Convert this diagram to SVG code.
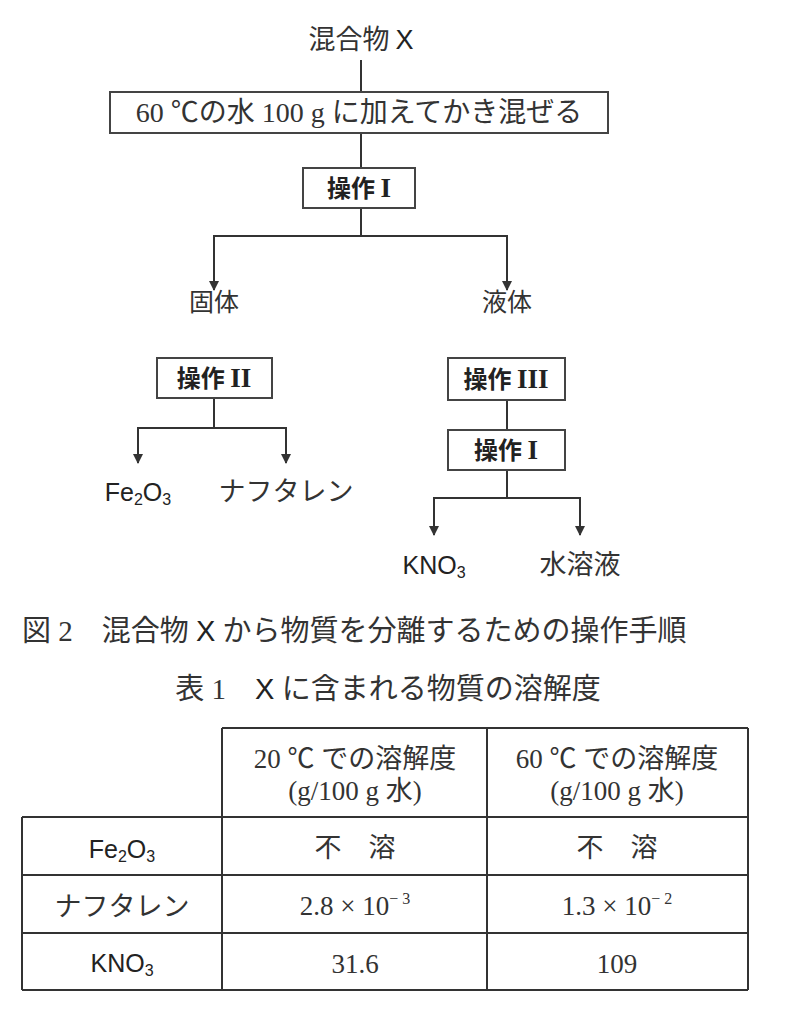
<svg xmlns="http://www.w3.org/2000/svg" width="787" height="1021" viewBox="0 0 787 1021">
<style>
.s{font-family:"Liberation Serif","Noto Sans CJK JP",serif;font-size:25px;fill:#333}
.g{font-family:"Noto Sans CJK JP","Liberation Sans",sans-serif;font-size:25px;fill:#333}
.b{font-family:"Noto Sans CJK JP",sans-serif;font-size:24px;font-weight:bold;fill:#222}
.r{font-family:"Liberation Serif",serif;font-weight:bold;font-size:27px}
.a{font-family:"Liberation Sans",Arial,sans-serif;font-size:25px;fill:#222}
.sub{font-size:16px;baseline-shift:-4px}
rect{fill:#fff;stroke:#444;stroke-width:2}
.c line,.c path,.t line{stroke:#333;stroke-width:2;fill:none}
</style>
<defs><marker id="ar" viewBox="0 0 10 10" refX="9" refY="5" markerWidth="5" markerHeight="5" orient="auto"><path d="M0,0L10,5L0,10z" fill="#333"/></marker></defs>
<g class="c">
<line x1="361" y1="60" x2="361" y2="92"/>
<line x1="361" y1="133" x2="361" y2="168"/>
<line x1="361" y1="208" x2="361" y2="236"/>
<line x1="213" y1="236" x2="508" y2="236"/>
<line x1="214" y1="236" x2="214" y2="290" marker-end="url(#ar)"/>
<line x1="507" y1="236" x2="507" y2="290" marker-end="url(#ar)"/>
<line x1="214" y1="398" x2="214" y2="428"/>
<line x1="137" y1="428" x2="287" y2="428"/>
<line x1="138" y1="428" x2="138" y2="463" marker-end="url(#ar)"/>
<line x1="286" y1="428" x2="286" y2="463" marker-end="url(#ar)"/>
<line x1="507" y1="400" x2="507" y2="430"/>
<line x1="507" y1="470" x2="507" y2="498"/>
<line x1="433" y1="498" x2="581" y2="498"/>
<line x1="434" y1="498" x2="434" y2="535" marker-end="url(#ar)"/>
<line x1="580" y1="498" x2="580" y2="535" marker-end="url(#ar)"/>
</g>
<g id="x"><text class="g" x="361" y="49" text-anchor="middle" style="font-size:27px">混合物 <tspan class="a" style="font-size:27px">X</tspan></text></g>
<g id="mix"><rect x="110" y="92" width="498" height="41"/><text class="s" x="359" y="122" text-anchor="middle" style="font-size:28px">60 ℃の水 100 g に加えてかき混ぜる</text></g>
<g id="op1"><rect x="303" y="168" width="112" height="40"/><text class="b" x="359" y="197" text-anchor="middle">操作 <tspan class="r">I</tspan></text></g>
<g id="solid"><text class="g" x="214" y="311" text-anchor="middle">固体</text></g>
<g id="liquid"><text class="g" x="507" y="311" text-anchor="middle">液体</text></g>
<g id="op2"><rect x="157" y="358" width="115" height="40"/><text class="b" x="214" y="387" text-anchor="middle">操作 <tspan class="r">II</tspan></text></g>
<g id="op3"><rect x="448" y="358" width="117" height="42"/><text class="b" x="506" y="388" text-anchor="middle">操作 <tspan class="r">III</tspan></text></g>
<g id="op1b"><rect x="448" y="430" width="117" height="40"/><text class="b" x="506" y="459" text-anchor="middle">操作 <tspan class="r">I</tspan></text></g>
<g id="fe"><text class="a" x="138" y="501" text-anchor="middle">Fe<tspan class="sub">2</tspan>O<tspan class="sub">3</tspan></text></g>
<g id="naph"><text class="g" x="286" y="501" text-anchor="middle" style="font-size:27px">ナフタレン</text></g>
<g id="kno"><text class="a" x="434" y="574" text-anchor="middle">KNO<tspan class="sub">3</tspan></text></g>
<g id="aq"><text class="g" x="580" y="574" text-anchor="middle" style="font-size:27px">水溶液</text></g>
<text class="s" x="22" y="641" style="font-size:29px">図 2　混合物 <tspan class="a" style="font-size:29px">X</tspan> から物質を分離するための操作手順</text>
<text class="s" x="388" y="699" text-anchor="middle" style="font-size:29px">表 1　<tspan class="a" style="font-size:29px">X</tspan> に含まれる物質の溶解度</text>
<g class="t">
<line x1="222" y1="728" x2="748" y2="728"/>
<line x1="22" y1="817" x2="748" y2="817"/>
<line x1="22" y1="875" x2="748" y2="875"/>
<line x1="22" y1="933" x2="748" y2="933"/>
<line x1="22" y1="990" x2="748" y2="990"/>
<line x1="22" y1="817" x2="22" y2="990"/>
<line x1="222" y1="728" x2="222" y2="990"/>
<line x1="487" y1="728" x2="487" y2="990"/>
<line x1="748" y1="728" x2="748" y2="990"/>
</g>
<g class="s" text-anchor="middle">
<text x="355" y="768" font-size="27">20 ℃ での溶解度</text><text x="355" y="800" font-size="27">(g/100 g 水)</text>
<text x="617" y="768" font-size="27">60 ℃ での溶解度</text><text x="617" y="800" font-size="27">(g/100 g 水)</text>
<text x="355" y="857" font-size="27">不　溶</text><text x="617" y="857" font-size="27">不　溶</text>
<text x="355" y="915" font-size="27">2.8 × 10<tspan font-size="16" dy="-11">− 3</tspan></text>
<text x="617" y="915" font-size="27">1.3 × 10<tspan font-size="16" dy="-11">− 2</tspan></text>
<text x="355" y="973" font-size="27">31.6</text><text x="617" y="973" font-size="27">109</text>
</g>
<text class="a" x="122" y="858" text-anchor="middle">Fe<tspan class="sub">2</tspan>O<tspan class="sub">3</tspan></text>
<text class="g" x="122" y="916" text-anchor="middle" style="font-size:27px">ナフタレン</text>
<text class="a" x="122" y="972" text-anchor="middle">KNO<tspan class="sub">3</tspan></text>
</svg>
